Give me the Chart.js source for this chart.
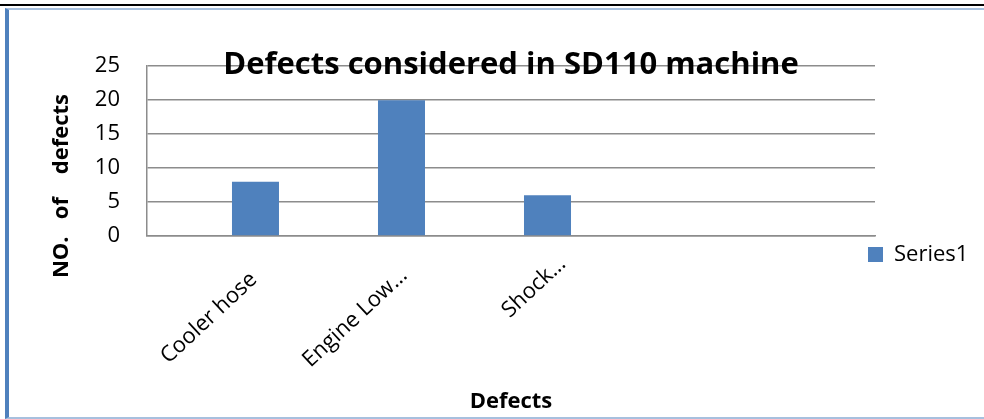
<!DOCTYPE html>
<html><head><meta charset="utf-8">
<script src="https://cdn.jsdelivr.net/npm/chart.js@4.4.1/dist/chart.umd.min.js"></script>
<style>
html,body{margin:0;padding:0;background:#fff;width:984px;height:419px;overflow:hidden;}
#topline{position:absolute;left:0;top:4px;width:984px;height:2px;background:#000;}
#frame{position:absolute;left:5px;top:8px;width:1000px;height:407px;border-left:4px solid #4f81bd;border-top:2px solid #a7c0de;border-bottom:2px solid #a7c0de;}
#wrap{position:absolute;left:0;top:0;width:975px;height:407px;}
</style></head><body>
<div id="topline"></div>
<div id="frame"><div id="wrap"><canvas id="c"></canvas></div></div>
<script>
const categories = ['Cooler hose', 'Engine Low\u2026', 'Shock\u2026'];
const values = [8, 20, 6];
const seriesName = 'Series1';
const yMin = 0, yMax = 25, yStep = 5;
const chartTitle = 'Defects considered in SD110 machine';
const xAxisTitle = 'Defects';
const yAxisTitle = 'NO.   of    defects';

const FONT = 'Open Sans';
// trailing blanks so each rotated label ends where the original's did
const labelTrail = ['    ', '   ', ''];

const yTitlePlugin = {
  id: 'yTitle',
  afterDraw(chart) {
    const c = chart.ctx;
    c.save();
    c.translate(53, 176);
    c.rotate(-Math.PI / 2);
    c.font = 'bold 22px "' + FONT + '"';
    c.fillStyle = '#000';
    c.textAlign = 'center';
    c.textBaseline = 'middle';
    c.fillText(yAxisTitle, 0, 0);
    c.restore();
  }
};
const legendPlace = {
  id: 'legendPlace',
  afterLayout(chart) {
    const lg = chart.legend;
    const w = lg.width, h = lg.height;
    lg.left = 849; lg.right = 849 + w;
    lg.top = 223.5; lg.bottom = 223.5 + h;
  }
};

new Chart(document.getElementById('c'), {
  type: 'bar',
  data: {
    datasets: [{
      label: seriesName,
      data: values.map((v, i) => ({x: i, y: v})),
      backgroundColor: '#4f81bd',
      borderWidth: 0,
      categoryPercentage: 1,
      barPercentage: 0.322
    }]
  },
  options: {
    responsive: true,
    maintainAspectRatio: false,
    animation: false,
    layout: {padding: 0},
    plugins: {
      title: {
        display: true, text: chartTitle, color: '#000', fullSize: false,
        font: {family: FONT, size: 31, weight: 'bold'},
        padding: {top: 37, bottom: -18}
      },
      legend: {
        position: 'right', align: 'start', fullSize: false, maxWidth: 109,
        labels: {boxWidth: 15, boxHeight: 15, color: '#000', font: {family: FONT, size: 22}}
      },
      tooltip: {enabled: false}
    },
    scales: {
      x: {
        type: 'linear', offset: false, min: -0.743, max: 4.243,
        afterBuildTicks(s) { s.ticks = categories.map((c, i) => ({value: i})); },
        afterFit(s) { s.height = 181; },
        grid: {display: false, drawTicks: false},
        border: {color: '#8c8c8c', width: 1.5},
        ticks: {
          autoSkip: false, minRotation: 43, maxRotation: 43, padding: 15, labelOffset: 15, color: '#000',
          font: {family: FONT, size: 22},
          callback: (v) => (categories[v] ?? '') + (labelTrail[v] ?? '')
        },
        title: {display: true, text: xAxisTitle, color: '#000', font: {family: FONT, size: 22, weight: 'bold'}, padding: {top: 0, bottom: 2}}
      },
      y: {
        min: yMin, max: yMax,
        afterFit(s) { s.width = 138; },
        ticks: {stepSize: yStep, padding: 27, color: '#000', font: {family: FONT, size: 22}},
        grid: {color: '#8c8c8c', lineWidth: 1.5, drawTicks: false},
        border: {color: '#8c8c8c', width: 1.5}
      }
    }
  },
  plugins: [yTitlePlugin, legendPlace]
});
</script>
</body></html>
